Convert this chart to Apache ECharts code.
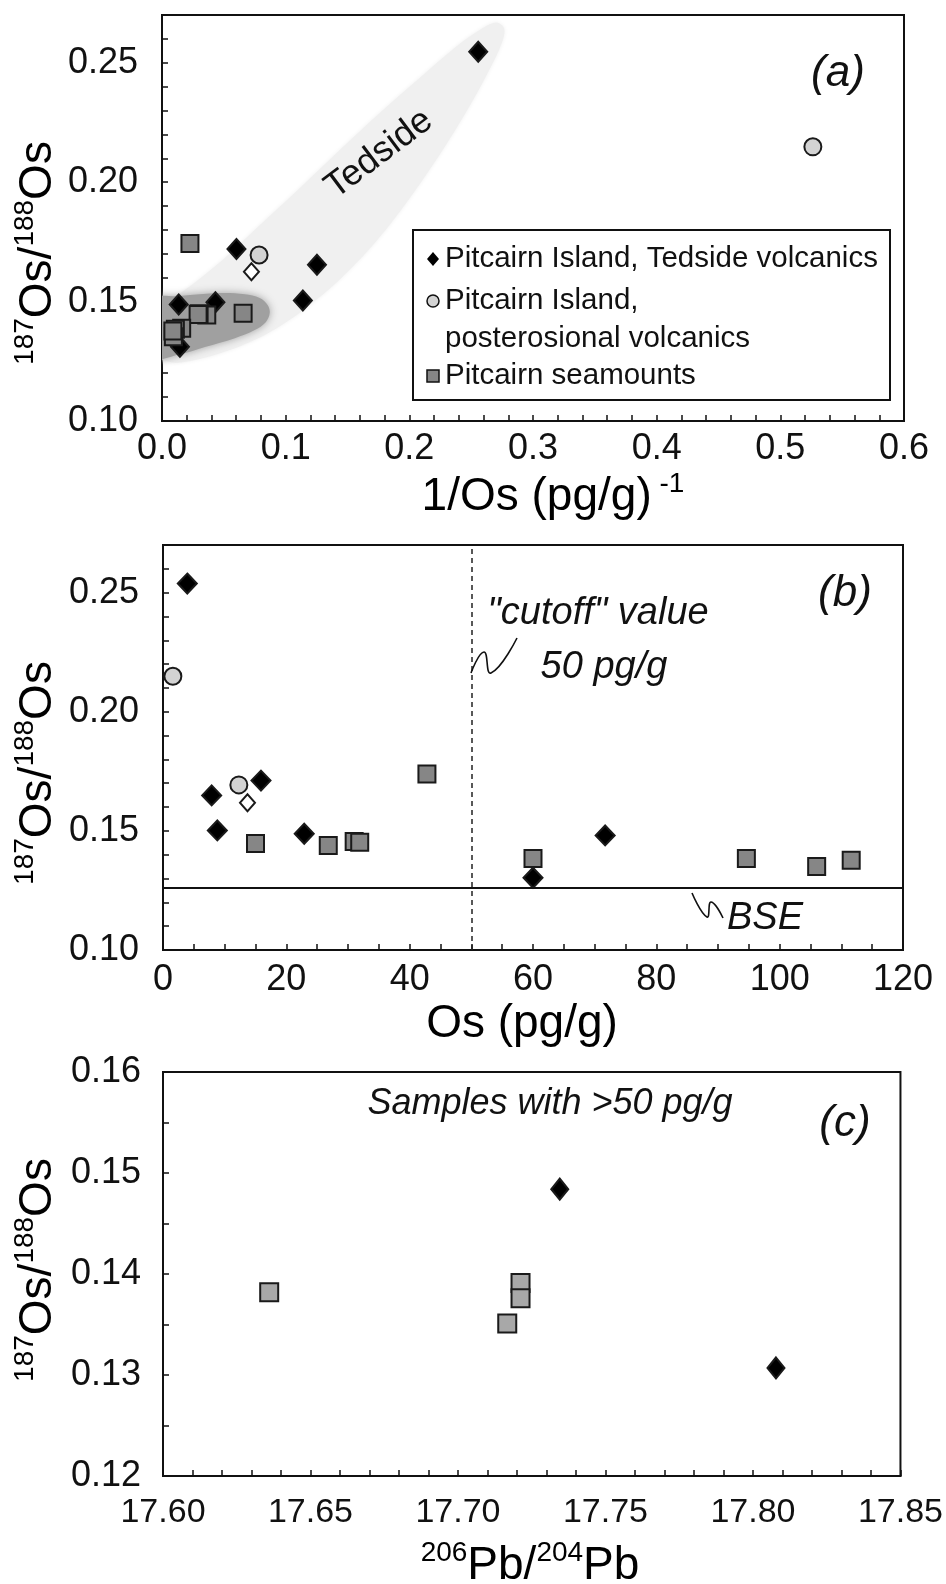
<!DOCTYPE html>
<html>
<head>
<meta charset="utf-8">
<script src="https://cdn.jsdelivr.net/npm/echarts@6/dist/echarts.min.js"></script>
<style>
html, body { margin: 0; padding: 0; background: #fff; }
#chart { width: 946px; height: 1584px; }
</style>
</head>
<body>
<div id="chart"></div>
<script>
// ---- panel (a): 1/Os vs 187Os/188Os
const tedsideA = [[0.2557, 0.2546], [0.1253, 0.1654], [0.1139, 0.1505], [0.0602, 0.1720], [0.0432, 0.1497], [0.0135, 0.1488], [0.0145, 0.1311]]
const posterosionalA = [[0.5263, 0.2148], [0.0785, 0.1695]]
const openDiamondA = [[0.0723, 0.1625]]
const seamountA = [[0.0226, 0.1743], [0.0656, 0.1451], [0.0362, 0.1444], [0.0300, 0.1449], [0.0292, 0.1446], [0.0159, 0.1388], [0.0108, 0.1384], [0.0092, 0.1353], [0.0088, 0.1377]]
// shaded fields of panel (a), in data units
const tedsideField = [[0.0024, 0.1485], [0.0185, 0.1548], [0.0468, 0.1665], [0.0790, 0.1820], [0.1113, 0.1975], [0.1435, 0.2134], [0.1758, 0.2289], [0.2081, 0.2435], [0.2363, 0.2561], [0.2565, 0.2636], [0.2702, 0.2669], [0.2766, 0.2644], [0.2750, 0.2586], [0.2645, 0.2469], [0.2444, 0.2280], [0.2161, 0.2050], [0.1839, 0.1820], [0.1516, 0.1632], [0.1194, 0.1485], [0.0871, 0.1372], [0.0548, 0.1297], [0.0266, 0.1255], [0.0065, 0.1247], [-0.01, 0.130]]
const seamountField = [[-0.01, 0.1506], [0.0145, 0.1523], [0.0468, 0.1536], [0.0669, 0.1531], [0.0790, 0.1515], [0.0855, 0.1485], [0.0871, 0.1452], [0.0839, 0.1414], [0.0750, 0.1381], [0.0589, 0.1347], [0.0347, 0.1310], [0.0145, 0.1280], [-0.01, 0.1265]]

// ---- panel (b): Os vs 187Os/188Os
const tedsideB = [[3.94, 0.2538], [7.89, 0.1649], [8.81, 0.1502], [15.89, 0.1711], [22.9, 0.1488], [60.0, 0.1303], [71.7, 0.1481]]
const posterosionalB = [[1.6, 0.2149], [12.3, 0.1693]]
const openDiamondB = [[13.7, 0.1618]]
const seamountB = [[15.0, 0.1447], [26.8, 0.1439], [31.0, 0.1455], [31.9, 0.1452], [42.8, 0.1739], [60.0, 0.1384], [94.6, 0.1384], [106.0, 0.1351], [111.6, 0.1377]]
const bseRatio = 0.126
const cutoffOs = 50

// ---- panel (c): 206Pb/204Pb vs 187Os/188Os, samples > 50 pg/g
const tedsideC = [[17.7345, 0.1484], [17.8078, 0.1307]]
const seamountC = [[17.636, 0.1382], [17.7212, 0.1391], [17.7212, 0.1376], [17.7167, 0.1351]]

const legendNames = ['Pitcairn Island, Tedside volcanics', 'Pitcairn Island,', 'posterosional volcanics', 'Pitcairn seamounts']

const FONT = '"Liberation Sans", Arial, Helvetica, sans-serif'
const INK = '#111'

function valueAxis(gridIndex, min, max, interval, fmt, size, margin) {
  return {
    type: 'value', gridIndex: gridIndex, min: min, max: max, interval: interval,
    axisLine: { show: true, onZero: false, lineStyle: { color: INK, width: 2 } },
    axisTick: { show: true, inside: true, length: 6, lineStyle: { color: INK, width: 1.5 } },
    axisLabel: { formatter: fmt, color: INK, fontSize: size, fontFamily: FONT, margin: margin },
    splitLine: { show: false }
  }
}

function fieldSeries(points, color, blur) {
  return {
    type: 'custom', xAxisIndex: 0, yAxisIndex: 0, silent: true, clip: true, z: 1,
    data: [0],
    renderItem: (params, api) => ({
      type: 'polygon',
      shape: { points: points.map(p => api.coord(p)), smooth: 0.35 },
      style: { fill: color, shadowBlur: blur, shadowColor: color }
    })
  }
}

function scatter(idx, data, symbol, size, fill, z) {
  return {
    type: 'scatter', xAxisIndex: idx, yAxisIndex: idx, data: data, symbol: symbol, symbolSize: size, z: z,
    itemStyle: { color: fill, borderColor: '#1a1a1a', borderWidth: 2, opacity: 1 }
  }
}

function text(x, y, str, size, extra) {
  return Object.assign({
    type: 'text', x: x, y: y, silent: true, z: 100,
    style: { text: str, font: size + 'px ' + FONT, fill: INK, align: 'center', verticalAlign: 'middle', textAlign: 'center', textVerticalAlign: 'middle' }
  }, extra || {})
}

function italic(x, y, str, size, rot) {
  const t = text(x, y, str, size, rot ? { rotation: rot } : {})
  t.style.font = 'italic ' + size + 'px ' + FONT
  return t
}

const sup = { fontSize: 28, fontFamily: FONT, color: INK, verticalAlign: 'top', lineHeight: 30 }
const big = { fontSize: 46, fontFamily: FONT, color: INK, lineHeight: 54 }

function richTitle(x, y, str, rot) {
  return {
    type: 'text', x: x, y: y, rotation: rot || 0, silent: true, z: 100,
    style: { text: str, rich: { s: sup, b: big }, align: 'center', verticalAlign: 'middle', textAlign: 'center', textVerticalAlign: 'middle' }
  }
}

function squiggle(points) {
  return { type: 'polyline', silent: true, z: 100, shape: { points: points, smooth: 0.5 }, style: { stroke: INK, lineWidth: 1.6, fill: null } }
}

const fmtA_x = v => Math.round(v * 100) % 10 === 0 ? v.toFixed(1) : ''
const fmtY = v => Math.round(v * 100) % 5 === 0 ? v.toFixed(2) : ''
const fmtB_x = v => Math.round(v) % 20 === 0 ? String(Math.round(v)) : ''
const fmtC_x = v => Math.round(v * 100) % 5 === 0 ? v.toFixed(2) : ''
const fmtC_y = v => Math.round(v * 1000) % 10 === 0 ? v.toFixed(2) : ''

const lx = 433
const legendRows = [259, 301, 339, 376]

const option = {
  animation: false,
  backgroundColor: '#fff',
  grid: [
    { left: 162, top: 15, width: 742, height: 406, show: true, borderColor: INK, borderWidth: 2 },
    { left: 163, top: 545, width: 740, height: 405, show: true, borderColor: INK, borderWidth: 2 },
    { left: 163, top: 1072, width: 740, height: 404, show: true, borderColor: INK, borderWidth: 2 }
  ],
  xAxis: [
    valueAxis(0, 0, 0.6, 0.02, fmtA_x, 36, 10),
    valueAxis(1, 0, 120, 5, fmtB_x, 36, 12),
    valueAxis(2, 17.6, 17.85, 0.01, fmtC_x, 34, 20)
  ],
  yAxis: [
    valueAxis(0, 0.10, 0.27, 0.01, fmtY, 36, 24),
    valueAxis(1, 0.10, 0.27, 0.01, fmtY, 36, 24),
    valueAxis(2, 0.12, 0.16, 0.005, fmtC_y, 36, 22)
  ],
  series: [
    fieldSeries(tedsideField, '#f0f0f0', 4),
    fieldSeries(seamountField, '#a0a0a0', 8),
    scatter(0, tedsideA, 'diamond', [18, 20], '#000', 3),
    scatter(0, posterosionalA, 'circle', 17, '#d3d3d3', 4),
    scatter(0, openDiamondA, 'diamond', [15, 17], '#fff', 5),
    scatter(0, seamountA, 'rect', 17, '#868686', 6),

    Object.assign(scatter(1, tedsideB, 'diamond', [19, 20], '#000', 3), {
      markLine: {
        silent: true, symbol: 'none', precision: 4, label: { show: false },
        data: [
          { yAxis: bseRatio, lineStyle: { color: INK, width: 1.8, type: 'solid' } },
          { xAxis: cutoffOs, lineStyle: { color: '#222', width: 1.5, type: [5, 4] } }
        ]
      }
    }),
    scatter(1, posterosionalB, 'circle', 17, '#d3d3d3', 4),
    scatter(1, openDiamondB, 'diamond', [15, 17], '#fff', 5),
    scatter(1, seamountB, 'rect', 17, '#868686', 6),

    scatter(2, tedsideC, 'diamond', [17, 21], '#000', 3),
    scatter(2, seamountC, 'rect', 18, '#a8a8a8', 6)
  ],
  graphic: [
    // panel (a)
    richTitle(38, 253, '{s|187}{b|Os/}{s|188}{b|Os}', Math.PI / 2),
    richTitle(553, 497, '{b|1/Os (pg/g)}{s| -1}'),
    italic(838, 74, '(a)', 44),
    text(379, 154, 'Tedside', 36, { rotation: 37 * Math.PI / 180 }),
    { type: 'rect', silent: true, z: 90, shape: { x: 413, y: 230, width: 477, height: 170 }, style: { fill: '#fff', stroke: INK, lineWidth: 2 } },
    { type: 'polygon', silent: true, z: 100, shape: { points: [[lx, legendRows[0] - 7], [lx + 6, legendRows[0]], [lx, legendRows[0] + 7], [lx - 6, legendRows[0]]] }, style: { fill: '#000' } },
    { type: 'circle', silent: true, z: 100, shape: { cx: lx, cy: legendRows[1], r: 6 }, style: { fill: '#d3d3d3', stroke: INK, lineWidth: 1.5 } },
    { type: 'rect', silent: true, z: 100, shape: { x: lx - 6, y: legendRows[3] - 6, width: 12, height: 12 }, style: { fill: '#868686', stroke: INK, lineWidth: 1.5 } },
    ...legendNames.map((n, i) => {
      const t = text(445, legendRows[i], n, 29.5)
      t.style.align = 'left'
      t.style.textAlign = 'left'
      return t
    }),

    // panel (b)
    richTitle(38, 773, '{s|187}{b|Os/}{s|188}{b|Os}', Math.PI / 2),
    richTitle(522, 1024, '{b|Os (pg/g)}'),
    italic(845, 594, '(b)', 44),
    italic(598, 613, '"cutoff" value', 38),
    italic(604, 667, '50 pg/g', 38),
    italic(765, 918, 'BSE', 38),
    squiggle([[471, 673], [484, 652], [491, 673], [517, 638]]),
    squiggle([[692, 893], [707, 917], [711, 902], [723, 918]]),

    // panel (c)
    richTitle(38, 1270, '{s|187}{b|Os/}{s|188}{b|Os}', Math.PI / 2),
    richTitle(530, 1566, '{s|206}{b|Pb/}{s|204}{b|Pb}'),
    italic(550, 1104, 'Samples with >50 pg/g', 36),
    italic(845, 1124, '(c)', 44)
  ]
}

const chart = echarts.init(document.getElementById('chart'))
chart.setOption(option)
</script>
</body>
</html>
